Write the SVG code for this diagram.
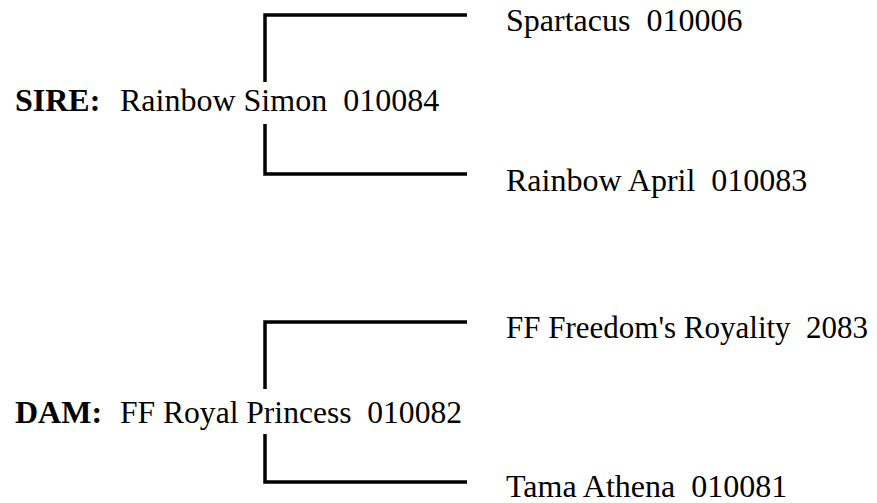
<svg xmlns="http://www.w3.org/2000/svg" width="877" height="503" viewBox="0 0 877 503">
<style>
text{font-family:"Liberation Serif","Times New Roman",serif;font-size:32px;fill:#000;white-space:pre}
.b{font-weight:bold}
.s{font-size:31px}
.ln{fill:none;stroke:#000;stroke-width:3.5;stroke-linejoin:miter;stroke-linecap:butt}
</style>
<rect width="877" height="503" fill="#fff"/>
<g id="connectors">
<path class="ln" d="M467,15 H265 V82"/>
<path class="ln" d="M265,124 V174 H467"/>
<path class="ln" d="M467,322 H265 V389"/>
<path class="ln" d="M265,434 V482 H467"/>
</g>
<g id="sire"><text class="b" x="15" y="111">SIRE:</text><text x="120" y="111">Rainbow Simon  010084</text></g>
<g id="sire-sire"><text x="506" y="31">Spartacus  010006</text></g>
<g id="sire-dam"><text x="506" y="191">Rainbow April  010083</text></g>
<g id="dam"><text class="b" x="15" y="423">DAM:</text><text x="120" y="423" textLength="342" lengthAdjust="spacingAndGlyphs">FF Royal Princess  010082</text></g>
<g id="dam-sire"><text class="s" x="506" y="338">FF Freedom's Royality  2083</text></g>
<g id="dam-dam"><text x="506" y="497">Tama Athena  010081</text></g>
</svg>
